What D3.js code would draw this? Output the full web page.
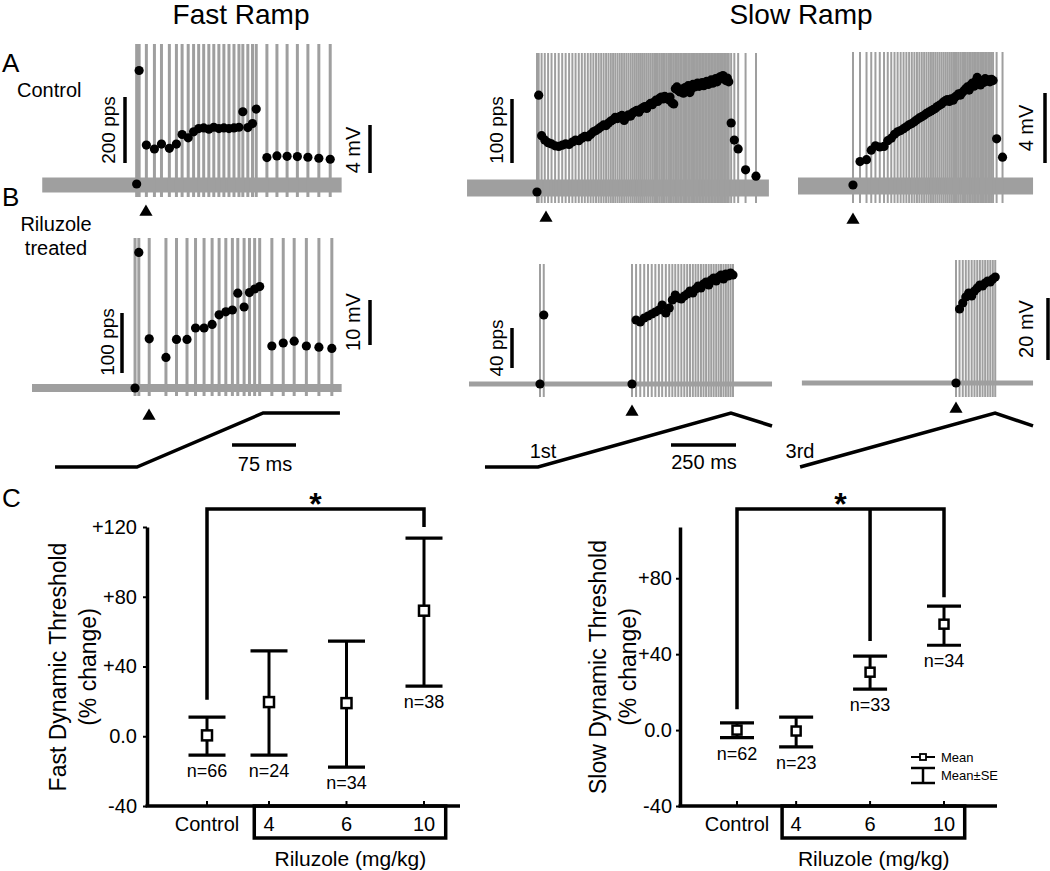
<!DOCTYPE html>
<html lang="en">
<head>
<meta charset="UTF-8">
<title>Dynamic threshold - riluzole</title>
<script src="https://d3js.org/d3.v7.min.js"></script>
<style>
  body { margin: 0; background: #fff; }
  svg text { font-family: "Liberation Sans", Arial, sans-serif; fill: #000; }
</style>
</head>
<body>
<script>

// ---- panel C data (% change of dynamic threshold, mean and mean +/- SE) ----
var categories = ["Control", "4", "6", "10"];
var fastMean = [0.5, 19.6, 19, 72];
var fastHi = [11, 49, 54.6, 113.6];
var fastLo = [-10.8, -10.8, -17.7, 28.8];
var fastN = [66, 24, 34, 38];
var slowMean = [0, -0.5, 30.5, 55.8];
var slowHi = [3.8, 6.8, 39, 65.3];
var slowLo = [-4, -8.9, 21.6, 44.7];
var slowN = [62, 23, 33, 34];
var fastTicks = [-40, 0, 40, 80, 120];
var fastTickLabels = ["-40", "0.0", "+40", "+80", "+120"];
var slowTicks = [-40, 0, 40, 80];
var slowTickLabels = ["-40", "0.0", "+40", "+80"];

// ---- panels A/B: instantaneous rate (pps) of every spike after the first of a train ----
var fastCtrlStart = 122.7;   // ms
var fastCtrlRates = [344, 118, 106, 121, 108, 121, 150, 140, 158, 168, 170, 166, 172, 168, 170,
  168, 170, 172, 219, 171, 183, 227, 80, 85, 84, 83, 81, 78, 75];
var fastRilStart = 120.8;
var fastRilRates = [226, 82, 51, 81, 81, 100, 100, 106, 122, 127, 130, 158, 135, 159, 165, 169,
  70, 75, 78, 70, 68, 66];
var slowCtrl1Start = 273;
var slowCtrl1Rates = [153, 89, 82, 78, 76, 73, 72, 74, 76, 75,
  79, 82, 81, 85, 88, 87, 91, 95, 97, 100,
  103, 106, 105, 109, 112, 114, 118, 116, 119, 121,
  113, 118, 122, 120, 125, 127, 129, 126, 131, 133,
  135, 132, 137, 140, 138, 142, 145, 143, 148, 150,
  147, 151, 149, 146, 150, 141, 139, 163, 166, 160,
  158, 162, 156, 165, 160, 168, 157, 163, 170, 166,
  169, 172, 167, 170, 173, 168, 171, 175, 170, 174,
  177, 172, 176, 179, 174, 178, 182, 180, 184, 181,
  176, 180, 174, 109, 82, 68, 35, 25];
var slowCtrl3Start = 211.5;
var slowCtrl3Rates = [37, 40, 55, 62, 60, 61, 70, 74, 80, 84,
  86, 89, 92, 95, 97, 100, 103, 106, 108, 110,
  113, 115, 117, 119, 121, 124, 126, 128, 131, 133,
  135, 132, 136, 134, 139, 141, 144, 142, 146, 149,
  152, 155, 150, 158, 161, 156, 164, 170, 160, 158,
  165, 162, 168, 164, 166, 163, 167, 165, 73, 44];
var slowRil1Starts = [284.6, 638.5];
var slowRil1Rates = [[69],
  [64, 62, 66, 68, 70, 72, 74, 79, 71, 76, 84, 89, 86, 85, 88, 90, 93, 91, 95, 98,
   96, 100, 102, 99, 104, 106, 103, 107, 109, 105, 110, 108, 111, 109]];
var slowRil3Start = 607.7;
var slowRil3Rates = [74, 80, 86, 90, 87, 92, 95, 98, 97, 100, 102, 101, 104, 106];

// ramp commands: time (ms) and relative level
var fastRampT = [27, 123, 271, 361];
var fastRampV = [0, 0, 1, 1];
var slowRamp1T = [73, 277, 1019, 1177];
var slowRamp1V = [0, 0, 1, 0.76];
var slowRamp3T = [8, 758, 904];
var slowRamp3V = [0, 1, 0.76];

var GRAY = "#9f9f9f";
var svg = d3.select("body").append("svg")
    .attr("width", 1050)
    .attr("height", 871);

function txt(s, x, y, size, anchor) {
  return svg.append("text")
      .attr("x", x).attr("y", y)
      .attr("font-size", size)
      .attr("text-anchor", anchor || "start")
      .text(s);
}

function vtxt(s, cx, cy, size) {
  return svg.append("text")
      .attr("transform", "translate(" + cx + "," + cy + ") rotate(-90)")
      .attr("font-size", size)
      .attr("text-anchor", "middle")
      .attr("dy", "0.35em")
      .text(s);
}

function bar(x1, y1, x2, y2) {
  svg.append("line")
      .attr("x1", x1).attr("y1", y1).attr("x2", x2).attr("y2", y2)
      .attr("stroke", "#000").attr("stroke-width", 3.5);
}

function drawTrace(p) {
  var g = svg.append("g");
  var x = d3.scaleLinear().domain([0, 1000]).range([p.x0, p.x0 + p.pxPerSec]);
  var r = d3.scaleLinear().domain([0, 100]).range([p.zero, p.zero - p.per100]);

  var spikes = [];
  p.trains.forEach(function(tr) {
    var t = tr.start;
    spikes.push({t: t, f: 0});
    tr.rates.forEach(function(f) {
      t += 1000 / f;
      spikes.push({t: t, f: f});
    });
  });

  g.append("line")
      .attr("x1", x(p.span[0])).attr("x2", x(p.span[1]))
      .attr("y1", p.base).attr("y2", p.base)
      .attr("stroke", GRAY).attr("stroke-width", p.band);

  g.selectAll(".spike")
      .data(spikes)
      .join("line")
      .attr("class", "spike")
      .attr("x1", function(d) { return x(d.t); })
      .attr("x2", function(d) { return x(d.t); })
      .attr("y1", p.low).attr("y2", p.top)
      .attr("stroke", GRAY).attr("stroke-width", p.spikeW);

  g.selectAll(".dot")
      .data(spikes)
      .join("circle")
      .attr("class", "dot")
      .attr("cx", function(d) { return x(d.t); })
      .attr("cy", function(d) { return r(d.f); })
      .attr("r", 4.6)
      .attr("fill", "#000");

  g.append("path")
      .attr("d", d3.symbol(d3.symbolTriangle, 75)())
      .attr("transform", "translate(" + x(p.mark) + "," + p.markY + ")")
      .attr("fill", "#000");
  return x;
}

function drawRamp(x, T, V) {
  var y = d3.scaleLinear().domain([0, 1]).range([467, 413]);
  svg.append("path")
      .datum(d3.zip(T, V))
      .attr("d", d3.line().x(function(d) { return x(d[0]); }).y(function(d) { return y(d[1]); }))
      .attr("fill", "none")
      .attr("stroke", "#000")
      .attr("stroke-width", 3.5);
}

// ---- top panels ----
var xf = drawTrace({x0: 32, pxPerSec: 853, span: [12, 363], base: 185, band: 15,
  top: 44, low: 197, zero: 184, per100: 33, spikeW: 3, mark: 133.6, markY: 212,
  trains: [{start: fastCtrlStart, rates: fastCtrlRates}]});
drawTrace({x0: 32, pxPerSec: 853, span: [0, 363], base: 388, band: 8,
  top: 238, low: 396, zero: 388, per100: 60, spikeW: 3, mark: 137.2, markY: 416,
  trains: [{start: fastRilStart, rates: fastRilRates}]});
var xs1 = drawTrace({x0: 466, pxPerSec: 260, span: [4, 1165], base: 188, band: 17,
  top: 53, low: 203, zero: 192, per100: 63.3, spikeW: 2, mark: 307.7, markY: 218,
  trains: [{start: slowCtrl1Start, rates: slowCtrl1Rates}]});
drawTrace({x0: 466, pxPerSec: 260, span: [11.5, 1177], base: 384, band: 5,
  top: 264, low: 397, zero: 384, per100: 100, spikeW: 2, mark: 638.5, markY: 412,
  trains: [{start: slowRil1Starts[0], rates: slowRil1Rates[0]},
           {start: slowRil1Starts[1], rates: slowRil1Rates[1]}]});
var xs3 = drawTrace({x0: 798, pxPerSec: 260, span: [0, 904], base: 186, band: 17,
  top: 52, low: 203, zero: 185, per100: 63.3, spikeW: 2, mark: 211.5, markY: 220,
  trains: [{start: slowCtrl3Start, rates: slowCtrl3Rates}]});
drawTrace({x0: 798, pxPerSec: 260, span: [15, 904], base: 383, band: 5,
  top: 260, low: 397, zero: 383, per100: 100, spikeW: 2, mark: 607.7, markY: 409,
  trains: [{start: slowRil3Start, rates: slowRil3Rates}]});

drawRamp(xf, fastRampT, fastRampV);
drawRamp(xs1, slowRamp1T, slowRamp1V);
drawRamp(xs3, slowRamp3T, slowRamp3V);

// scale bars
bar(125, 97, 125, 163);   vtxt("200 pps", 108, 130, 19);
bar(122, 313, 122, 373);  vtxt("100 pps", 107, 342, 19);
bar(512, 99, 512, 163);   vtxt("100 pps", 496, 130, 19);
bar(512, 328, 512, 368);  vtxt("40 pps", 496, 348, 19);
bar(370, 125, 370, 173);  vtxt("4 mV", 353, 150, 20);
bar(370, 300, 370, 345);  vtxt("10 mV", 353, 322, 20);
bar(1045, 93, 1045, 163); vtxt("4 mV", 1026, 128, 20);
bar(1048, 298, 1048, 360); vtxt("20 mV", 1026, 329, 20);
bar(xf(234.5), 445, xf(309.5), 445);   txt("75 ms", 265, 471, 20, "middle");
bar(xs1(788.5), 445, xs1(1038.5), 445); txt("250 ms", 704, 469, 20, "middle");
txt("1st", 543, 458, 20, "middle");
txt("3rd", 800, 458, 20, "middle");

// titles and panel letters
txt("Fast Ramp", 241, 24, 28, "middle");
txt("Slow Ramp", 801, 24, 28, "middle");
txt("A", 2, 72, 26);
txt("Control", 17, 97, 20);
txt("B", 2, 206, 26);
txt("Riluzole", 56, 231, 20, "middle");
txt("treated", 56, 255, 20, "middle");
txt("C", 2, 507, 26);

// ---- panel C ----
function drawStats(c) {
  var g = svg.append("g");
  var y = d3.scaleLinear().domain([-40, c.yMax]).range([806, 527]);
  var x = d3.scaleLinear().domain([0, 2.8]).range(c.xRange);
  var slots = [0, 0.8, 1.8, 2.8];
  var rows = categories.map(function(cat, i) {
    return {cat: cat, s: slots[i], m: c.mean[i], hi: c.hi[i], lo: c.lo[i], n: c.n[i]};
  });

  var ya = g.append("g")
      .attr("transform", "translate(" + c.axisX + ",0)")
      .call(d3.axisLeft(y).tickValues(c.ticks)
          .tickFormat(function(d, i) { return c.tickLabels[i]; })
          .tickSizeInner(4).tickSizeOuter(0).tickPadding(c.tickPad));
  ya.select(".domain").attr("stroke-width", 3.5);
  ya.selectAll(".tick line").attr("stroke-width", 2);
  ya.selectAll(".tick text").attr("font-size", 20);

  g.append("line")
      .attr("x1", c.axisX - 1.5).attr("x2", c.xEnd)
      .attr("y1", 806).attr("y2", 806)
      .attr("stroke", "#000").attr("stroke-width", 3.5);
  g.selectAll(".xt").data(rows).join("line")
      .attr("x1", function(d) { return x(d.s); }).attr("x2", function(d) { return x(d.s); })
      .attr("y1", 806).attr("y2", 801)
      .attr("stroke", "#000").attr("stroke-width", 2);
  g.selectAll(".xl").data(rows).join("text")
      .attr("x", function(d) { return x(d.s); })
      .attr("y", 831)
      .attr("font-size", 20)
      .attr("text-anchor", "middle")
      .text(function(d) { return d.cat; });

  g.append("rect")
      .attr("x", x(0.61)).attr("y", 806)
      .attr("width", x(3.08) - x(0.61)).attr("height", 32)
      .attr("fill", "none").attr("stroke", "#000").attr("stroke-width", 3.5);
  g.append("text")
      .attr("x", x(1.85)).attr("y", 866)
      .attr("font-size", 21).attr("text-anchor", "middle")
      .text("Riluzole (mg/kg)");

  vtxt(c.label, c.labelX, 667, 23);
  vtxt("(% change)", c.labelX + 30, 667, 23);

  var eb = g.selectAll(".eb").data(rows).join("g")
      .attr("transform", function(d) { return "translate(" + x(d.s) + ",0)"; });
  eb.append("line")
      .attr("y1", function(d) { return y(d.lo); }).attr("y2", function(d) { return y(d.hi); })
      .attr("stroke", "#000").attr("stroke-width", 3);
  eb.append("line")
      .attr("x1", -c.cap / 2).attr("x2", c.cap / 2)
      .attr("y1", function(d) { return y(d.hi); }).attr("y2", function(d) { return y(d.hi); })
      .attr("stroke", "#000").attr("stroke-width", 3.2);
  eb.append("line")
      .attr("x1", -c.cap / 2).attr("x2", c.cap / 2)
      .attr("y1", function(d) { return y(d.lo); }).attr("y2", function(d) { return y(d.lo); })
      .attr("stroke", "#000").attr("stroke-width", 3.2);
  eb.append("rect")
      .attr("x", -c.sq / 2).attr("width", c.sq).attr("height", c.sq)
      .attr("y", function(d) { return y(d.m) - c.sq / 2; })
      .attr("fill", "#fff").attr("stroke", "#000").attr("stroke-width", 2.5);
  eb.append("text")
      .attr("y", function(d) { return y(d.lo) + 22; })
      .attr("font-size", 18).attr("text-anchor", "middle")
      .text(function(d) { return "n=" + d.n; });

  // significance bracket
  var br = d3.path();
  br.moveTo(x(0), y(c.bracket[0]));
  br.lineTo(x(0), 509);
  br.lineTo(x(2.8), 509);
  br.lineTo(x(2.8), y(c.bracket[1]));
  if (c.bracket.length > 2) {
    br.moveTo(x(1.8), 509);
    br.lineTo(x(1.8), y(c.bracket[2]));
  }
  g.append("path")
      .attr("d", br.toString())
      .attr("fill", "none").attr("stroke", "#000").attr("stroke-width", 3.5);
  g.append("text")
      .attr("x", x(1.4)).attr("y", 515)
      .attr("font-size", 32).attr("font-weight", "bold")
      .attr("text-anchor", "middle")
      .text("*");
  return g;
}

drawStats({mean: fastMean, hi: fastHi, lo: fastLo, n: fastN, yMax: 120,
  ticks: fastTicks, tickLabels: fastTickLabels, tickPad: 6, axisX: 147,
  xRange: [207, 424], xEnd: 460, cap: 37, sq: 10, bracket: [21, 120],
  label: "Fast Dynamic Threshold", labelX: 58});
var gs = drawStats({mean: slowMean, hi: slowHi, lo: slowLo, n: slowN, yMax: 107,
  ticks: slowTicks, tickLabels: slowTickLabels, tickPad: 4, axisX: 680,
  xRange: [737, 944], xEnd: 997, cap: 34, sq: 9, bracket: [11, 70, 47],
  label: "Slow Dynamic Threshold", labelX: 598});

// legend
gs.append("line").attr("x1", 911).attr("x2", 935).attr("y1", 757).attr("y2", 757)
    .attr("stroke", "#000").attr("stroke-width", 2);
gs.append("rect").attr("x", 920).attr("y", 754).attr("width", 6).attr("height", 6)
    .attr("fill", "#fff").attr("stroke", "#000").attr("stroke-width", 1.8);
gs.append("line").attr("x1", 911).attr("x2", 935).attr("y1", 768).attr("y2", 768)
    .attr("stroke", "#000").attr("stroke-width", 2.5);
gs.append("line").attr("x1", 911).attr("x2", 935).attr("y1", 783).attr("y2", 783)
    .attr("stroke", "#000").attr("stroke-width", 2.5);
gs.append("line").attr("x1", 923).attr("x2", 923).attr("y1", 768).attr("y2", 783)
    .attr("stroke", "#000").attr("stroke-width", 2.5);
txt("Mean", 941, 762, 13);
txt("Mean\u00b1SE", 941, 780, 13);

</script>
</body>
</html>
